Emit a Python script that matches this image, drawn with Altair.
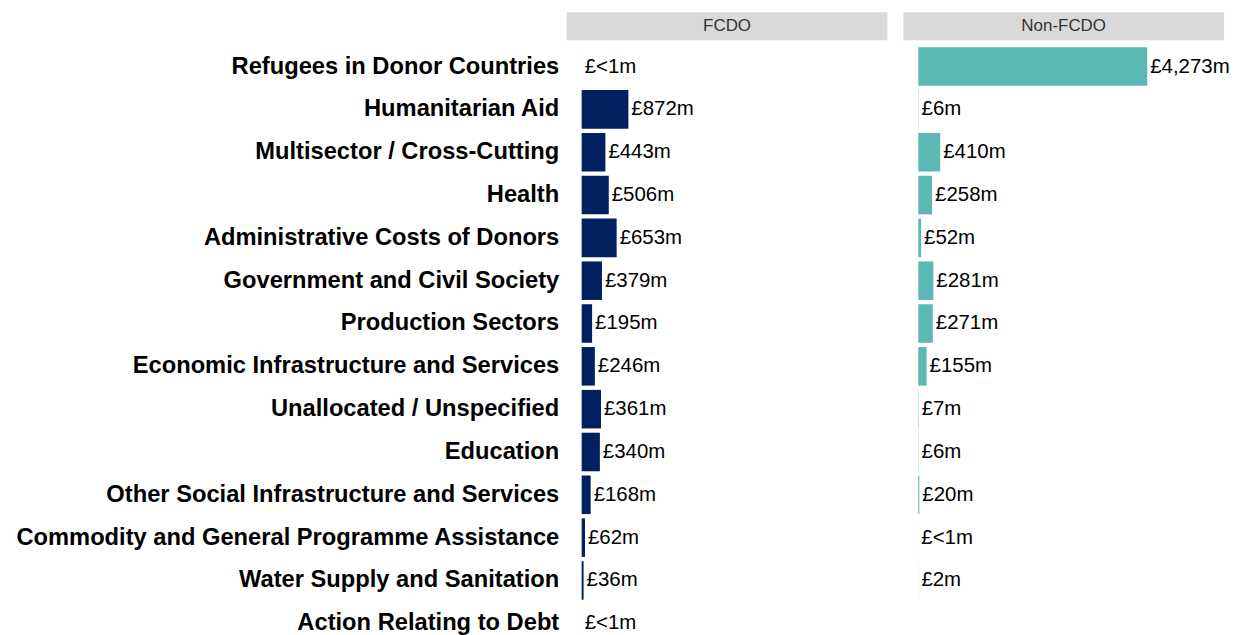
import altair as alt
import pandas as pd

categories = [
    "Refugees in Donor Countries",
    "Humanitarian Aid",
    "Multisector / Cross-Cutting",
    "Health",
    "Administrative Costs of Donors",
    "Government and Civil Society",
    "Production Sectors",
    "Economic Infrastructure and Services",
    "Unallocated / Unspecified",
    "Education",
    "Other Social Infrastructure and Services",
    "Commodity and General Programme Assistance",
    "Water Supply and Sanitation",
    "Action Relating to Debt",
]
departments = ["FCDO", "Non-FCDO"]
fcdo_values = [0.3, 872, 443, 506, 653, 379, 195, 246, 361, 340, 168, 62, 36, 0.3]
non_fcdo_values = [4273, 6, 410, 258, 52, 281, 271, 155, 7, 6, 20, 0.3, 2, None]
colors = ["#002060", "#5bb8b3"]


def fmt(v):
    return "£<1m" if v < 1 else f"£{v:,.0f}m"


rows = []
for dept, vals in zip(departments, [fcdo_values, non_fcdo_values]):
    for cat, v in zip(categories, vals):
        if v is None:
            continue
        rows.append({"Department": dept, "Category": cat, "Value": v, "Label": fmt(v)})
df = pd.DataFrame(rows)

W = 322
H = 602

x_enc = alt.X("Value:Q", axis=None, scale=alt.Scale(domain=[-279, 5706], nice=False, zero=False))
y_enc = alt.Y(
    "Category:N",
    sort=categories,
    title=None,
    scale=alt.Scale(paddingInner=0.1, paddingOuter=0.05),
    axis=alt.Axis(
        domain=False,
        ticks=False,
        labelFontSize=23.8,
        labelFontWeight="bold",
        labelFont="Liberation Sans",
        labelColor="#000000",
        labelPadding=8,
        labelLimit=800,
    ),
)

bars = alt.Chart().mark_bar().encode(
    x=x_enc,
    x2=alt.datum(0),
    y=y_enc,
    color=alt.Color("Department:N", scale=alt.Scale(domain=departments, range=colors), legend=None),
)

labels = alt.Chart().mark_text(
    align="left", baseline="middle", dx=3, fontSize=20.5, font="Liberation Sans", color="#000000"
).encode(x=x_enc, y=y_enc, text="Label:N")

header_box = alt.Chart().transform_filter(
    alt.datum.Category == categories[0]
).mark_rect(color="#d9d9d9").encode(
    x=alt.value(0), x2=alt.value(W), y=alt.value(-33), y2=alt.value(-5)
)

header_text = alt.Chart().transform_filter(
    alt.datum.Category == categories[0]
).mark_text(
    fontSize=17, font="Liberation Sans", color="#333333", baseline="middle", align="center"
).encode(x=alt.value(W / 2), y=alt.value(-19), text="Department:N")

inner = alt.layer(header_box, header_text, bars, labels).properties(
    width=W, height=H, view=alt.ViewBackground(strokeWidth=0, stroke="transparent")
)

chart = (
    inner.facet(
        column=alt.Column("Department:N", sort=departments, header=alt.Header(labels=False, title=None)),
        data=df,
        spacing=10,
    )
    .resolve_scale(x="shared", y="shared")
    .configure_view(strokeWidth=0, stroke="transparent")
    .configure(background="white")
    .properties(padding={"left": 6, "top": 3, "right": 0, "bottom": 0})
)

chart.save("out.html", embed_options={"renderer": "svg", "actions": False})
